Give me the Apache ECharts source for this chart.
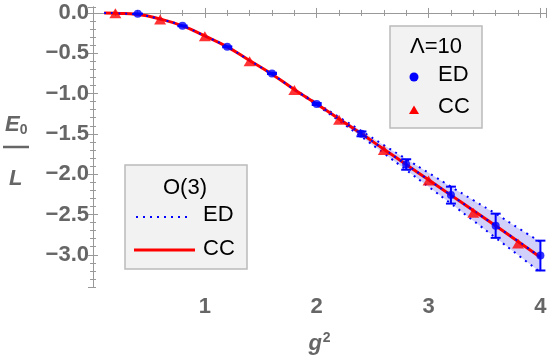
<!DOCTYPE html>
<html>
<head>
<meta charset="utf-8">
<script src="https://cdn.jsdelivr.net/npm/echarts@6/dist/echarts.min.js"></script>
<style>
  html, body { margin: 0; padding: 0; background: #fff; }
  #main { width: 552px; height: 360px; }
</style>
</head>
<body>
<div id="main"></div>
<script>
// curves (g^2 -> E0/L)
var curveX  = [0.1, 0.2, 0.4, 0.6, 0.8, 1.0, 1.2, 1.4, 1.6, 1.8, 2.0, 2.2, 2.4, 2.6, 2.8, 3.0, 3.2, 3.4, 3.6, 3.8, 4.0];
var ccCurve = [0, -0.004, -0.02, -0.075, -0.16, -0.285, -0.42, -0.59, -0.76, -0.95, -1.13, -1.315, -1.50, -1.69, -1.88, -2.07, -2.26, -2.45, -2.64, -2.835, -3.03];
var edCurve = [0, -0.004, -0.02, -0.076, -0.16, -0.286, -0.42, -0.59, -0.76, -0.95, -1.13, -1.316, -1.50, -1.69, -1.88, -2.07, -2.26, -2.45, -2.64, -2.83, -3.03];

// ED uncertainty band
var bandX  = [1.8, 2.0, 2.2, 2.4, 2.6, 2.8, 3.0, 3.2, 3.4, 3.6, 3.8, 4.0];
var bandHi = [-0.946, -1.118, -1.293, -1.465, -1.64, -1.812, -1.984, -2.155, -2.323, -2.49, -2.667, -2.842];
var bandLo = [-0.954, -1.142, -1.337, -1.535, -1.74, -1.948, -2.156, -2.365, -2.577, -2.79, -3.003, -3.218];

// Lambda=10 points
var edX   = [0.4, 0.8, 1.2, 1.6, 2.0, 2.4, 2.8, 3.2, 3.6, 4.0];
var edY   = [-0.01, -0.16, -0.42, -0.75, -1.13, -1.50, -1.88, -2.26, -2.64, -3.01];
var edErr = [0.003, 0.005, 0.006, 0.008, 0.012, 0.03, 0.065, 0.105, 0.15, 0.185];
var ccX   = [0.2, 0.6, 1.0, 1.4, 1.8, 2.2, 2.6, 3.0, 3.4, 3.8];
var ccY   = [-0.005, -0.08, -0.29, -0.6, -0.955, -1.325, -1.70, -2.08, -2.48, -2.86];

var zip = function (a, b) { return a.map(function (v, i) { return [v, b[i]]; }); };

var gray = '#999';
var labelFont = { color: '#666', fontSize: 22, fontWeight: 'bold', fontFamily: 'Liberation Sans, Arial, sans-serif' };

function fmtY(v) {
  if (Math.abs(v * 2 - Math.round(v * 2)) > 1e-6) return '';
  return (v < -1e-9 ? '\u2212' : '') + Math.abs(v).toFixed(1);
}
function fmtX(v) {
  if (v < 0.5 || Math.abs(v - Math.round(v)) > 1e-6) return '';
  return String(Math.round(v));
}

var xRange = { min: 0, max: 4.05 };
var yRange = { min: -3.4, max: 0.074 };

function xAx(pos, major, labels) {
  return {
    type: 'value', position: pos, min: xRange.min, max: xRange.max,
    interval: major ? 1 : 0.2,
    axisLine: { show: major, lineStyle: { color: gray, width: 1 } },
    axisTick: { show: true, inside: true, length: major ? 5 : 3, lineStyle: { color: gray } },
    axisLabel: labels ? Object.assign({ show: true, margin: 9, formatter: fmtX }, labelFont) : { show: false },
    splitLine: { show: false }
  };
}
function yAx(pos, major, labels) {
  var a = {
    type: 'value', position: pos, min: yRange.min, max: yRange.max,
    axisLine: { show: major, lineStyle: { color: gray, width: 1 } },
    axisTick: { show: true, inside: true, length: major ? 5 : 3, lineStyle: { color: gray } },
    axisLabel: labels ? Object.assign({ show: true, margin: 4, formatter: fmtY, showMinLabel: false, showMaxLabel: false }, labelFont) : { show: false },
    splitLine: { show: false }
  };
  if (major) a.splitNumber = 7; else a.interval = 0.1;
  return a;
}

var xBottom = xAx('bottom', true, true);
xBottom.name = '{i|g}{s|2}';
xBottom.nameLocation = 'middle';
xBottom.nameGap = 44;
xBottom.nameTextStyle = {
  rich: {
    i: { fontSize: 22, fontStyle: 'italic', fontWeight: 'bold', color: '#666', fontFamily: 'Liberation Sans' },
    s: { fontSize: 14, fontWeight: 'bold', color: '#666', verticalAlign: 'top', padding: [0, 0, 12, 1], fontFamily: 'Liberation Sans' }
  }
};

var myChart = echarts.init(document.getElementById('main'));

var option = {
  animation: false,
  backgroundColor: '#fff',
  grid: { left: 93, right: 6, top: 7, height: 282.4 },
  xAxis: [xBottom, xAx('bottom', false, false), xAx('top', true, false), xAx('top', false, false)],
  yAxis: [yAx('left', true, true), yAx('left', false, false), yAx('right', true, false), yAx('right', false, false)],
  series: [
    {
      // shaded band
      type: 'custom',
      data: [[bandX[0], bandHi[0]]],
      z: 1,
      renderItem: function (params, api) {
        var pts = [];
        for (var i = 0; i < bandX.length; i++) pts.push(api.coord([bandX[i], bandHi[i]]));
        for (var j = bandX.length - 1; j >= 0; j--) pts.push(api.coord([bandX[j], bandLo[j]]));
        return { type: 'polygon', shape: { points: pts }, style: { fill: 'rgba(40,40,230,0.22)' } };
      }
    },
    {
      type: 'line', data: zip(bandX, bandHi), showSymbol: false, smooth: true, z: 2,
      lineStyle: { color: '#0000ff', width: 2, type: [2, 5] }
    },
    {
      type: 'line', data: zip(bandX, bandLo), showSymbol: false, smooth: true, z: 2,
      lineStyle: { color: '#0000ff', width: 2, type: [2, 5] }
    },
    {
      type: 'line', data: zip(curveX, ccCurve), showSymbol: false, smooth: true, z: 3,
      lineStyle: { color: '#ff0000', width: 3 }
    },
    {
      type: 'line', data: zip(curveX, edCurve), showSymbol: false, smooth: true, z: 4,
      lineStyle: { color: '#0000ff', width: 2, type: [2, 5] }
    },
    {
      // error bars
      type: 'custom', z: 5,
      data: edX.map(function (x, i) { return [x, edY[i], edErr[i]]; }),
      renderItem: function (params, api) {
        var x = api.value(0), y = api.value(1), e = api.value(2);
        var hi = api.coord([x, y + e]), lo = api.coord([x, y - e]);
        var w = 5, st = { stroke: '#0000ff', lineWidth: 2 };
        return {
          type: 'group', children: [
            { type: 'line', shape: { x1: hi[0], y1: hi[1], x2: lo[0], y2: lo[1] }, style: st },
            { type: 'line', shape: { x1: hi[0] - w, y1: hi[1], x2: hi[0] + w, y2: hi[1] }, style: st },
            { type: 'line', shape: { x1: lo[0] - w, y1: lo[1], x2: lo[0] + w, y2: lo[1] }, style: st }
          ]
        };
      }
    },
    {
      type: 'scatter', data: zip(edX, edY), symbol: 'circle', symbolSize: 8, z: 6,
      itemStyle: { color: '#0000ff' }
    },
    {
      type: 'scatter', data: zip(ccX, ccY), symbol: 'triangle', symbolSize: [12, 10], z: 6,
      itemStyle: { color: '#ff0000' }
    }
  ],
  graphic: [
    // y axis name E0 / L
    {
      type: 'text', left: 5, top: 114,
      style: {
        text: '{e|E}{s|0}',
        rich: {
          e: { fontSize: 22, fontStyle: 'italic', fontWeight: 'bold', fill: '#666', fontFamily: 'Liberation Sans' },
          s: { fontSize: 14, fontWeight: 'bold', fill: '#666', verticalAlign: 'bottom', padding: [10, 0, 0, 0], fontFamily: 'Liberation Sans' }
        }
      }
    },
    { type: 'line', shape: { x1: 3, y1: 147, x2: 29, y2: 147 }, style: { stroke: '#666', lineWidth: 2.5 } },
    {
      type: 'text', left: 9, top: 168,
      style: { text: 'L', fontSize: 22, fontStyle: 'italic', fontWeight: 'bold', fill: '#666', fontFamily: 'Liberation Sans' }
    },
    // legend Lambda=10
    { type: 'rect', shape: { x: 390, y: 26, width: 92, height: 102 }, style: { fill: '#f2f2f2', stroke: '#bbb', lineWidth: 1.5 }, z: 10 },
    { type: 'text', x: 436, y: 47, style: { text: '\u039b=10', fontSize: 22, fill: '#000', align: 'center', verticalAlign: 'middle', fontFamily: 'Liberation Sans' }, z: 11 },
    { type: 'circle', shape: { cx: 414, cy: 77, r: 4.5 }, style: { fill: '#0000ff' }, z: 11 },
    { type: 'text', x: 438, y: 75, style: { text: 'ED', fontSize: 22, fill: '#000', verticalAlign: 'middle', fontFamily: 'Liberation Sans' }, z: 11 },
    { type: 'polygon', shape: { points: [[414, 105.5], [409, 114], [419, 114]] }, style: { fill: '#ff0000' }, z: 11 },
    { type: 'text', x: 438, y: 107, style: { text: 'CC', fontSize: 22, fill: '#000', verticalAlign: 'middle', fontFamily: 'Liberation Sans' }, z: 11 },
    // legend O(3)
    { type: 'rect', shape: { x: 125, y: 165, width: 122, height: 104 }, style: { fill: '#f2f2f2', stroke: '#bbb', lineWidth: 1.5 }, z: 10 },
    { type: 'text', x: 185, y: 188, style: { text: 'O(3)', fontSize: 22, fill: '#000', align: 'center', verticalAlign: 'middle', fontFamily: 'Liberation Sans' }, z: 11 },
    { type: 'line', shape: { x1: 136, y1: 217, x2: 192, y2: 217 }, style: { stroke: '#0000ff', lineWidth: 2, lineDash: [2, 5] }, z: 11 },
    { type: 'text', x: 203, y: 215, style: { text: 'ED', fontSize: 22, fill: '#000', verticalAlign: 'middle', fontFamily: 'Liberation Sans' }, z: 11 },
    { type: 'line', shape: { x1: 134, y1: 250, x2: 195, y2: 250 }, style: { stroke: '#ff0000', lineWidth: 3 }, z: 11 },
    { type: 'text', x: 203, y: 249, style: { text: 'CC', fontSize: 22, fill: '#000', verticalAlign: 'middle', fontFamily: 'Liberation Sans' }, z: 11 }
  ]
};

myChart.setOption(option);
</script>
</body>
</html>
